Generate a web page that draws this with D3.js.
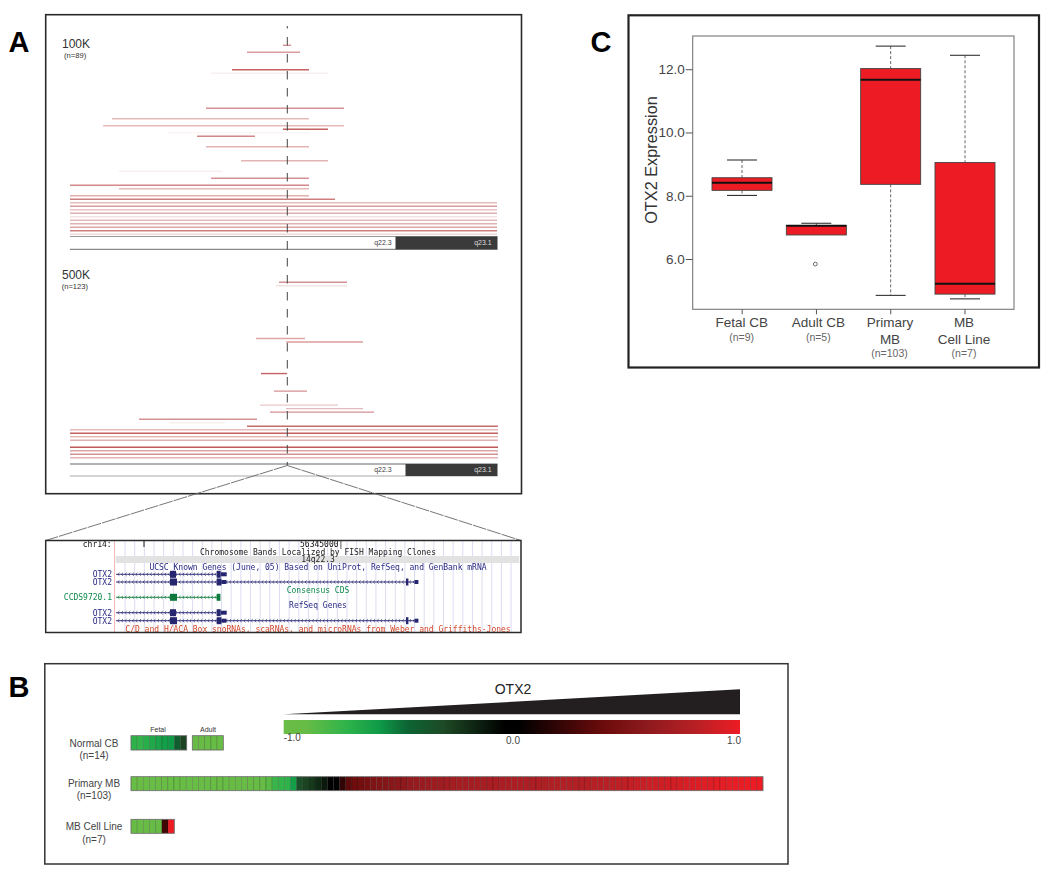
<!DOCTYPE html>
<html><head><meta charset="utf-8">
<script src="https://cdn.jsdelivr.net/npm/d3@7"></script>
<style>html,body{margin:0;padding:0;background:#fff}svg{display:block}text{font-family:"Liberation Sans",Arial,sans-serif}</style>
</head><body><svg id="c" width="1050" height="874"></svg>
<script>
// Panel A: segments [row, start, end, intensity]; position in kb-like units relative to OTX2
const seg100k = [[0,-4,4,.55],[2,-40,13,.5],[7,-55,22,.8],[8,-76,41,.08],[18,-81,57,.55],[21,-175,22,.35],[23,-184,57,.35],[24,-4,41,.8],[25,-119,22,.05],[26,-90,-32,.6],[29,-81,22,.38],[33,-46,41,.38],[36,-168,-65,.08],[38,-76,22,.55],[40,-217,22,.6],[41,-168,22,.35],[43,-217,22,.4],[44,-217,48,.65],[45,-217,210,.35],[46,-217,210,.5],[47,-217,210,.3],[48,-217,210,.4],[49,-217,210,.15],[50,-217,210,.35],[51,-217,210,.4],[52,-217,210,.45],[53,-217,210,.65],[54,-217,210,.2]];
const seg500k = [[0,-8,60,.55],[1,-11,60,.15],[16,-31,18,.45],[17,-1,76,.5],[26,-26,0,.8],[31,-13,20,.55],[35,-27,51,.28],[36,-1,76,.35],[37,-17,87,.55],[39,-148,-30,.55],[40,-118,-62,.08],[41,-40,211,.75],[42,-217,211,.35],[43,-217,211,.8],[44,-217,211,.35],[45,-217,211,.4],[47,-217,211,.85],[48,-217,211,.45],[49,-217,211,.55],[50,-217,211,.38]];
const tracks = [
  {title:"100K", n:"(n=89)", segs:seg100k, top:45.3, step:3.5, bandTop:236.5, bandBottom:249.3, split:108.5, textY:43.3, nY:55.3},
  {title:"500K", n:"(n=123)", segs:seg500k, top:282.3, step:3.51, bandTop:464, bandBottom:476, split:118.5, textY:274.3, nY:286}
];
const bandNames = ["q22.3","q23.1"];

// Genome browser inset
const browserTexts = [
  ["chr14:",111.7,544,"end","#111"],["56345000|",321.7,544,"middle","#111"],
  ["Chromosome Bands Localized by FISH Mapping Clones",318,552,"middle","#222"],["14q22.3",318,559.3,"middle","#222"],
  ["UCSC Known Genes (June, 05) Based on UniProt, RefSeq, and GenBank mRNA",318,567,"middle","#2a2a86"],
  ["OTX2",112,574.3,"end","#2a2a86"],["OTX2",112,582,"end","#2a2a86"],
  ["Consensus CDS",318,590,"middle","#0e8a4a"],["CCDS9720.1",112,597.3,"end","#0e8a4a"],
  ["RefSeq Genes",318,605,"middle","#2a2a86"],["OTX2",112,612.7,"end","#2a2a86"],["OTX2",112,620.7,"end","#2a2a86"],
  ["C/D and H/ACA Box snoRNAs, scaRNAs, and microRNAs from Weber and Griffiths-Jones",318,628.7,"middle","#d2492a"]
];
// gene rows: [rowY, lineEnd, exons[start,end,height], colour]
const geneShort = [[54.6,60.6,7],[101.3,105.3,7],[105.3,111.3,4]];
const geneLong = [[54.6,61.6,7],[101.3,106,7],[106,111,4],[290.6,293,7],[299.3,303,4]];
const geneCcds = [[54.6,61.6,7],[101.3,105,7]];
const geneRows = [[574.3,101,geneShort,"#25256f"],[582,301,geneLong,"#25256f"],[597.3,102,geneCcds,"#0e7a3c"],[612.7,101,geneShort,"#25256f"],[620.7,301,geneLong,"#25256f"]];

// Panel B: heatmap values
const fetalValues = [-.72,-.74,-.7,-.66,-.63,-.6,-.58,-.42,-.28];
const adultValues = [-.93,-.94,-.95,-.93,-.95];
const primaryValues = [-.96,-.97,-.96,-.95,-.96,-.97,-.96,-.95,-.96,-.95,-.96,-.95,-.95,-.96,-.94,-.95,-.94,-.93,-.94,-.93,-.92,-.9,-.86,-.76,-.74,-.72,-.6,-.33,-.28,-.24,-.18,-.12,-.03,0,.2,.36,.42,.45,.47,.5,.52,.54,.56,.58,.6,.62,.63,.65,.66,.67,.68,.69,.7,.7,.71,.71,.72,.72,.73,.73,.74,.74,.75,.75,.75,.75,.76,.76,.77,.77,.78,.78,.78,.78,.79,.8,.8,.81,.82,.83,.84,.85,.86,.86,.87,.88,.89,.9,.9,.91,.92,.93,.94,.95,.95,.96,.97,.97,.98,.98,.99,1,1];
const cellLineValues = [-.93,-.95,-.94,-.93,-.92,.25,1];
const colorStops = [-1,-.9,-.72,-.58,-.46,-.3,-.03,.03,.4,.6,.81,1];
const colorRange = ["#6abd45","#66bc46","#2db34a","#0f9a48","#0c6534","#1d4a25","#000000","#000000","#6b0b0b","#8f1a1e","#b82025","#ed1c24"];
const heatTicks = [["-1.0",-1],["0.0",0],["1.0",1]];
const wedgeHeights = [0,1];

// Panel C: boxplot
const boxNames = ["Fetal CB","Adult CB","Primary MB","MB Cell Line"];
const boxLabels = [["Fetal CB"],["Adult CB"],["Primary","MB"],["MB","Cell Line"]];
const boxCounts = ["(n=9)","(n=5)","(n=103)","(n=7)"];
const lowWhisker = [8.01,6.76,4.85,4.74];
const q1Values = [8.17,6.76,8.36,4.89];
const medians = [8.41,7.05,11.67,5.22];
const q3Values = [8.57,7.06,12.02,9.05];
const highWhisker = [9.13,7.13,12.73,12.44];
const outliers = [[1,5.84]];
const yTicks = [6,8,10,12];

const svg = d3.select("#c");
const frame=(x0,y0,x1,y1,w,c)=>svg.append("rect").attr("x",x0).attr("y",y0).attr("width",x1-x0).attr("height",y1-y0).attr("fill","none").attr("stroke",c||"#2a2a2a").attr("stroke-width",w);
const txt=(g,s,x,y,size,anchor,fill)=>g.append("text").text(s).attr("x",x).attr("y",y).attr("dy",".35em").attr("font-size",size).attr("text-anchor",anchor||"start").attr("fill",fill||"#333");

svg.append("defs").append("filter").attr("id","soft").append("feGaussianBlur").attr("stdDeviation",.3);

// Panel letters
[["A",8.5,52,],["B",8.5,696.7],["C",590.5,52]].forEach(d=>svg.append("text").text(d[0]).attr("x",d[1]).attr("y",d[2]).attr("font-size",29).attr("font-weight","bold").attr("fill","#000"));

// --- Panel A
frame(45.7,14.7,521.5,493.7,1.6);
const gx = d3.scaleLinear().domain([-217,210]).range([70,497]);
const segColor = d3.scaleLinear().domain([0,1]).range(["#ffffff","#b5393a"]);
const gA = svg.append("g");
tracks.forEach(t=>{
  const g = gA.append("g");
  txt(g,t.title,62,t.textY,12,"start","#333");
  txt(g,t.n,t.title==="100K"?64:61.7,t.nY,7.6,"start","#333");
  g.selectAll("line.s").data(t.segs).join("line").attr("class","s")
    .attr("x1",d=>gx(d[1])).attr("x2",d=>gx(d[2]))
    .attr("y1",d=>t.top+d[0]*t.step).attr("y2",d=>t.top+d[0]*t.step)
    .attr("stroke",d=>segColor(d[3])).attr("stroke-width",1.4);
  g.append("line").attr("x1",70).attr("x2",497.5).attr("y1",t.bandTop).attr("y2",t.bandTop).attr("stroke",t.title==="100K"?"#999":"#666").attr("stroke-width",1.2);
  g.append("line").attr("x1",70).attr("x2",497.5).attr("y1",t.bandBottom).attr("y2",t.bandBottom).attr("stroke",t.title==="100K"?"#888":"#aaa").attr("stroke-width",1.2);
  g.append("rect").attr("x",gx(t.split)).attr("y",t.bandTop).attr("width",gx(210.5)-gx(t.split)).attr("height",t.bandBottom-t.bandTop).attr("fill","#3a3a3a");
  txt(g,bandNames[0],391.7,(t.bandTop+t.bandBottom)/2,7,"end","#444");
  txt(g,bandNames[1],491.7,(t.bandTop+t.bandBottom)/2,7,"end","#ddd");
});
svg.append("line").attr("x1",287.3).attr("x2",287.3).attr("y1",26).attr("y2",465.5).attr("stroke","#444").attr("stroke-width",1).attr("stroke-dasharray","8.5,8.5").attr("stroke-dashoffset",6);

// callout lines to inset
[[45.7,540.5],[521,540.5]].forEach(e=>svg.append("line").attr("x1",287.3).attr("y1",465.5).attr("x2",e[0]).attr("y2",e[1]).attr("stroke","#666").attr("stroke-width",.9).attr("stroke-dasharray","14,1"));

// --- Inset browser
const bx = d3.scaleLinear().domain([0,405]).range([115.4,520.4]);
const gI = svg.append("g").attr("filter","url(#soft)");
gI.selectAll("line.g").data(d3.range(9.65,405,9.65)).join("line").attr("class","g").attr("x1",d=>bx(d)).attr("x2",d=>bx(d)).attr("y1",541).attr("y2",632).attr("stroke","#dcdcf2").attr("stroke-width",1);
gI.append("line").attr("x1",114.5).attr("x2",114.5).attr("y1",541).attr("y2",632).attr("stroke","#f4b8b8");
gI.append("rect").attr("x",115.7).attr("y",556).attr("width",403.5).attr("height",7).attr("fill","#e2e2e2");
gI.append("line").attr("x1",144).attr("x2",144).attr("y1",541).attr("y2",547).attr("stroke","#222");
browserTexts.forEach(d=>txt(gI,d[0],d[1],d[2],8,d[3],d[4]).style("font-family","'DejaVu Sans Mono',monospace"));
geneRows.forEach(r=>{
  const [y,end,ex,c]=r, g=gI.append("g");
  g.append("line").attr("x1",bx(0.6)).attr("x2",bx(end)).attr("y1",y).attr("y2",y).attr("stroke",c).attr("stroke-width",.9);
  g.selectAll("path").data(d3.range(3,end,3.6)).join("path").attr("d",d=>`M${bx(d)+1},${y-1.5}L${bx(d)-.6},${y}L${bx(d)+1},${y+1.5}`).attr("fill","none").attr("stroke",c).attr("stroke-width",.7);
  g.selectAll("rect").data(ex).join("rect").attr("x",d=>bx(d[0])).attr("width",d=>bx(d[1])-bx(d[0])).attr("y",d=>y-d[2]/2).attr("height",d=>d[2]).attr("fill",c);
});
frame(45.7,540.5,521,632.5,1.5);

// --- Panel B
frame(44.8,663.7,788,864,1.5,"#333");
const heat = d3.scaleLinear().domain(colorStops).range(colorRange);
const heatX = d3.scaleLinear().domain([-1,1]).range([283.7,740]);
const grad = svg.select("defs").append("linearGradient").attr("id","hg");
colorStops.forEach((s,i)=>grad.append("stop").attr("offset",(s+1)/2).attr("stop-color",colorRange[i]));
svg.append("rect").attr("x",heatX(-1)).attr("y",720).attr("width",heatX(1)-heatX(-1)).attr("height",14).attr("fill","url(#hg)");
const wedgeY = d3.scaleLinear().domain([0,1]).range([714.3,689.3]);
svg.append("path").attr("d",d3.area().x(d=>heatX(d*2-1)).y0(wedgeY(0)).y1(d=>wedgeY(d))(wedgeHeights)).attr("fill","#231f20");
txt(svg,"OTX2",513,689,14,"middle","#222");
txt(svg,heatTicks[0][0],heatX(-1),737.7,10,"start","#444");
txt(svg,heatTicks[1][0],513,740.7,10,"middle","#444");
txt(svg,heatTicks[2][0],734,740.7,10,"middle","#444");
function strip(vals,x0,x1,y0,y1){
  const sx=d3.scaleBand().domain(d3.range(vals.length)).range([x0,x1]);
  const g=svg.append("g");
  g.selectAll("rect").data(vals).join("rect").attr("x",(d,i)=>sx(i)).attr("y",y0).attr("width",sx.bandwidth()).attr("height",y1-y0).attr("fill",d=>heat(d)).attr("stroke","rgba(0,0,0,.28)").attr("stroke-width",.6);
  g.append("rect").attr("x",x0).attr("y",y0).attr("width",x1-x0).attr("height",y1-y0).attr("fill","none").attr("stroke","#777").attr("stroke-width",.8);
}
strip(fetalValues,131,186.7,735.7,750);
strip(adultValues,192.3,223.3,735.7,750);
strip(primaryValues,131,763,776.7,790.7);
strip(cellLineValues,131,174.3,819.3,833.3);
txt(svg,"Fetal",158,729.3,7,"middle","#333");
txt(svg,"Adult",208,729.3,7,"middle","#333");
[["Normal CB",743],["(n=14)",755],["Primary MB",783.3],["(n=103)",795.7],["MB Cell Line",826.7],["(n=7)",839]].forEach(d=>txt(svg,d[0],94,d[1],10,"middle","#444"));

// --- Panel C
frame(628.5,15.3,1039,367.5,2.2,"#222");
const y = d3.scaleLinear().domain([4.41,13.05]).range([309.3,36]);
const x = d3.scalePoint().domain(boxNames).range([742,965]);
const tickX = d3.scalePoint().domain(boxNames).range([741.7,964.5]);
const gC = svg.append("g");
gC.append("rect").attr("x",692.7).attr("y",36).attr("width",321.3).attr("height",273.3).attr("fill","none").attr("stroke","#777").attr("stroke-width",1.1);
const gy = gC.append("g").attr("transform","translate(692.7,0)").call(d3.axisLeft(y).tickValues(yTicks).tickFormat(d3.format(".1f")).tickSize(7).tickPadding(1));
gy.select(".domain").remove();
gy.selectAll("line").attr("stroke","#555");
gy.selectAll("text").attr("font-size",13.5).attr("font-family","'Liberation Sans'").attr("fill","#444");
const gb = gC.append("g").attr("transform","translate(0,309.3)").call(d3.axisBottom(tickX).tickSize(5).tickFormat(""));
gb.select(".domain").remove();
gb.selectAll("line").attr("stroke","#555");
gC.append("text").text("OTX2 Expression").attr("transform","translate(651,160) rotate(-90)").attr("dy",".35em").attr("text-anchor","middle").attr("font-size",16.3).attr("fill","#333");
const w=60, cap=15;
boxNames.forEach((n,i)=>{
  const c=x(n), g=gC.append("g");
  [[highWhisker[i],q3Values[i]],[q1Values[i],lowWhisker[i]]].forEach(p=>g.append("line").attr("x1",c).attr("x2",c).attr("y1",y(p[0])).attr("y2",y(p[1])).attr("stroke","#666").attr("stroke-width",1).attr("stroke-dasharray","3,2"));
  [highWhisker[i],lowWhisker[i]].forEach(v=>{ if(i===1&&v===lowWhisker[i])return; g.append("line").attr("x1",c-cap).attr("x2",c+cap).attr("y1",y(v)).attr("y2",y(v)).attr("stroke","#333").attr("stroke-width",1.1);});
  g.append("rect").attr("x",c-w/2).attr("width",w).attr("y",y(q3Values[i])).attr("height",y(q1Values[i])-y(q3Values[i])).attr("fill","#ed1c24").attr("stroke","#444").attr("stroke-width",.9);
  g.append("line").attr("x1",c-w/2).attr("x2",c+w/2).attr("y1",y(medians[i])).attr("y2",y(medians[i])).attr("stroke","#111").attr("stroke-width",2);
  const lx=[741.7,818.3,890,964][i], cx=[741.7,818.3,889.5,964][i];
  boxLabels[i].forEach((s,j)=>txt(gC,s,lx,322.7+j*16.6,13.5,"middle","#444"));
  txt(gC,boxCounts[i],cx,boxLabels[i].length===1?337.3:353.3,10.5,"middle","#666");
});
gC.selectAll("circle").data(outliers).join("circle").attr("cx",d=>x(boxNames[d[0]])-1).attr("cy",d=>y(d[1])).attr("r",1.9).attr("fill","#fff").attr("stroke","#444").attr("stroke-width",.8);
</script></body></html>
